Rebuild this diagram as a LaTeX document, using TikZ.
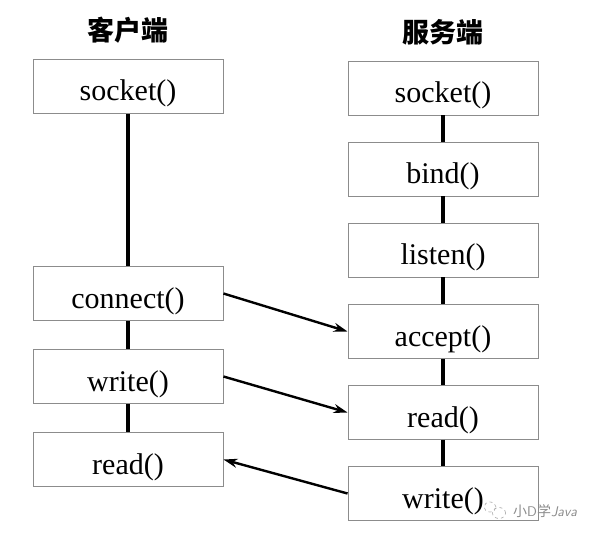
\documentclass[tikz,border=0pt]{standalone}
\usepackage{fontspec}
\setmainfont{Liberation Serif}
\newfontfamily\cjk{Noto Sans CJK SC}
\usetikzlibrary{arrows.meta,shapes.geometric}
\begin{document}
\begin{tikzpicture}[x=1pt,y=-1pt,
  fn/.style={draw=black!45,line width=0.9pt,minimum width=190pt,minimum height=54pt,inner sep=0pt,text height=29pt,text depth=0pt,font=\fontsize{30}{32}\selectfont},
  head/.style={font=\cjk\bfseries\fontsize{27}{29}\selectfont},
  life/.style={line width=3.5pt,black},
  msg/.style={line width=2.4pt,-{Stealth[length=14pt,width=9pt]}},
  bubble/.style={draw=black!35,dashed,ellipse,inner sep=0pt,line width=0.6pt}]
\useasboundingbox (0,0) rectangle (599,537);
\node[head] (hc) at (128,30) {客户端};
\node[head] (hs) at (443,32) {服务端};
% client
\node[fn] (csock) at (128,86.5) {socket()};
\node[fn] (cconn) at (128,293.5) {connect()};
\node[fn] (cwrite) at (128,376.5) {write()};
\node[fn] (cread) at (128,459.5) {read()};
% server
\node[fn] (ssock) at (443,88) {socket()};
\node[fn] (sbind) at (443,169) {bind()};
\node[fn] (slist) at (443,250) {listen()};
\node[fn] (sacc) at (443,331.5) {accept()};
\node[fn] (sread) at (443,412.5) {read()};
\node[fn] (swrite) at (443,493.5) {write()};
% lifelines
\draw[life] (csock) -- (cconn);
\draw[life] (cconn) -- (cwrite);
\draw[life] (cwrite) -- (cread);
\draw[life] (ssock) -- (sbind);
\draw[life] (sbind) -- (slist);
\draw[life] (slist) -- (sacc);
\draw[life] (sacc) -- (sread);
\draw[life] (sread) -- (swrite);
% messages
\draw[msg] (cconn.east) -- (sacc.west);
\draw[msg] (cwrite.east) -- (sread.west);
\draw[msg] (swrite.west) -- (cread.east);
% watermark
\node[bubble,minimum width=12pt,minimum height=10pt] (wm1) at (490,507) {};
\node[bubble,minimum width=13pt,minimum height=11pt] (wm2) at (499,513) {};
\node[text=black!45,font=\fontsize{14}{15}\selectfont,anchor=west,inner sep=0pt] (wm) at (513,511) {{\cjk 小}{\sffamily D}{\cjk 学}{\sffamily\itshape Java}};
\end{tikzpicture}
\end{document}
